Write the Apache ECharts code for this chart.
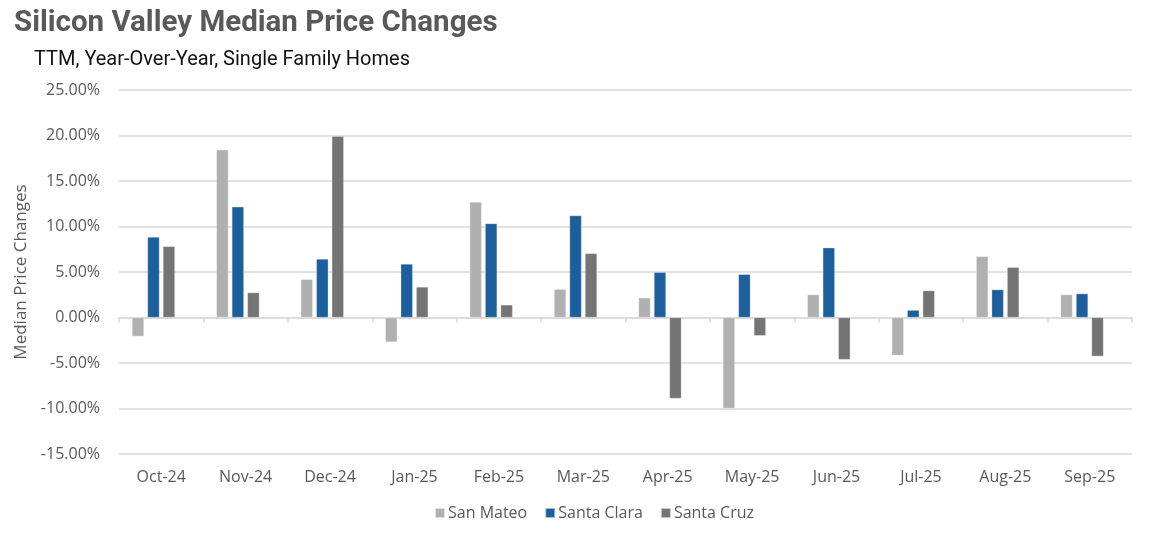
<!DOCTYPE html>
<html>
<head>
<meta charset="utf-8">
<script src="https://cdn.jsdelivr.net/npm/echarts@6/dist/echarts.min.js"></script>
<style>
html,body{margin:0;padding:0;background:#fff;}
#c{width:1160px;height:544px;}
</style>
</head>
<body>
<div id="c"></div>
<script>
const categories = ['Oct-24','Nov-24','Dec-24','Jan-25','Feb-25','Mar-25','Apr-25','May-25','Jun-25','Jul-25','Aug-25','Sep-25'];
const sanMateo   = [-2.08, 18.44, 4.20, -2.70, 12.70, 3.11, 2.16, -10.00, 2.52, -4.16, 6.72, 2.52];
const santaClara = [8.84, 12.16, 6.43, 5.88, 10.34, 11.21, 4.97, 4.75, 7.67, 0.81, 3.07, 2.63];
const santaCruz  = [7.82, 2.74, 19.93, 3.36, 1.39, 7.05, -8.90, -2.00, -4.63, 2.96, 5.52, -4.27];
// the source chart reserves an empty fourth bar slot in each group
const emptySlot  = [null, null, null, null, null, null, null, null, null, null, null, null];
const seriesNames = ['San Mateo','Santa Clara','Santa Cruz'];
const titleText = 'Silicon Valley Median Price Changes';
const subtitleText = 'TTM, Year-Over-Year, Single Family Homes';
const yAxisName = 'Median Price Changes';

const FONT = 'Open Sans';
const colors = ['#b0b0b0','#1c5f9c','#747474','#ffffff'];
const chart = echarts.init(document.getElementById('c'));
const mk = (name, data, i) => ({
  name, type:'bar', data,
  barWidth: 12, barGap: '29%',
  itemStyle:{color:colors[i], borderColor:'rgba(255,255,255,0.6)', borderWidth:0.5},
  emphasis:{disabled:true}
});
chart.setOption({
  animation:false,
  textStyle:{fontFamily:FONT},
  title:[
    {text:titleText, left:9, top:4, textStyle:{fontFamily:'Roboto', fontWeight:'bold', fontSize:29.5, color:'#595959'}},
    {text:subtitleText, left:29, top:45, textStyle:{fontFamily:'Roboto', fontWeight:'normal', fontSize:20, color:'#111'}}
  ],
  legend:{
    data:seriesNames, bottom:18, left:429,
    itemWidth:10, itemHeight:10, itemGap:17,
    textStyle:{fontFamily:FONT, fontSize:16, color:'#595959', padding:[0,0,0,-2]},
    icon:'rect'
  },
  grid:{left:119, right:28, top:90, bottom:90},
  xAxis:{
    type:'category', data:categories,
    axisLine:{show:true, onZero:true, lineStyle:{color:'#d9d9d9', width:1.5}},
    axisTick:{show:true, length:5, lineStyle:{color:'#d9d9d9', width:1.5}},
    axisLabel:{color:'#595959', fontSize:16, fontFamily:FONT, margin:15},
    position:'bottom'
  },
  yAxis:{
    type:'value', min:-15, max:25, interval:5,
    name:yAxisName, nameLocation:'middle', nameGap:86, nameRotate:90,
    nameTextStyle:{color:'#595959', fontSize:17, fontFamily:FONT},
    axisLine:{show:false}, axisTick:{show:false},
    axisLabel:{color:'#595959', fontSize:16, fontFamily:FONT, margin:19, formatter: v => v.toFixed(2)+'%'},
    splitLine:{lineStyle:{color:'#d9d9d9', width:1.5}}
  },
  series:[mk(seriesNames[0], sanMateo, 0), mk(seriesNames[1], santaClara, 1), mk(seriesNames[2], santaCruz, 2), mk('', emptySlot, 3)]
});
</script>
</body>
</html>
